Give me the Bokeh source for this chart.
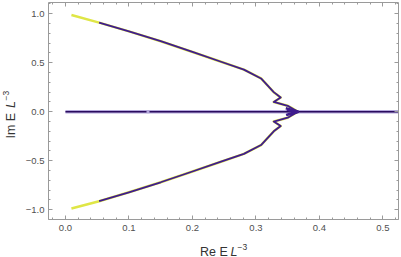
import math
from bokeh.plotting import figure
from bokeh.models import Range1d, LinearAxis, FixedTicker, Label
from bokeh.layouts import row, column
from bokeh.embed import file_html
from bokeh.resources import INLINE

# ---- data ----
re_upper = [0.0094, 0.053, 0.10, 0.15, 0.20, 0.245, 0.281, 0.308, 0.328, 0.339, 0.328, 0.350, 0.358, 0.366]
im_upper = [0.987, 0.910, 0.820, 0.720, 0.610, 0.510, 0.430, 0.340, 0.200, 0.145, 0.100, 0.061, 0.031, 0.000]
re_lower = [0.0094, 0.053, 0.10, 0.15, 0.20, 0.245, 0.281, 0.308, 0.328, 0.339, 0.328, 0.350, 0.358, 0.366]
im_lower = [-0.987, -0.913, -0.822, -0.720, -0.610, -0.510, -0.430, -0.340, -0.200, -0.145, -0.100, -0.061, -0.031, 0.000]
yellow_count = 2  # first points drawn only in yellow

blob_re = [0.347, 0.366, 0.349, 0.364, 0.350, 0.366, 0.348]
blob_im = [0.035, 0.004, -0.030, -0.008, 0.020, -0.004, -0.035]

zero_re = [0.0, 0.56]
zero_im = [0.0, 0.0]
mark_re = [0.13]
mark_im = [0.0]

x_ticks = [0.0, 0.1, 0.2, 0.3, 0.4, 0.5]
x_labels = ["0.0", "0.1", "0.2", "0.3", "0.4", "0.5"]
x_minor = [round(-0.02 + 0.02 * i, 2) for i in range(28)]
y_ticks = [-1.0, -0.5, 0.0, 0.5, 1.0]
y_labels = ["\u22121.0", "\u22120.5", "0.0", "0.5", "1.0"]
y_minor = [round(-1.1 + 0.1 * i, 1) for i in range(23)]

# ---- styles ----
YELLOW = "#dfe646"
PURPLE = "#3f1c8e"
DARK = "#2a0c5e"
LAV = "#b4a8dc"
FRAME = "#9a9a9a"
TXT = "#505050"
LABEL_C = "#333333"
FONT = "Liberation Sans"

YW = 22          # width of the y-label strip
XH = 17          # height of the x-label strip
PW = 401 - YW
PH = 257 - XH

p = figure(width=PW, height=PH, output_backend="svg", toolbar_location=None,
           x_range=Range1d(-0.0267, 0.5245), y_range=Range1d(-1.10, 1.115),
           min_border_left=47 - YW, min_border_right=PW - (398 - YW), min_border_top=2,
           min_border_bottom=PH - 219, title=None)
p.outline_line_color = None
p.grid.visible = False
p.background_fill_color = "white"
p.border_fill_color = "white"

def style_axis(ax, ticks, minor, labels):
    ax.ticker = FixedTicker(ticks=ticks, minor_ticks=minor)
    ax.axis_line_color = FRAME
    ax.major_tick_line_color = FRAME
    ax.minor_tick_line_color = FRAME
    ax.major_tick_in = 4
    ax.major_tick_out = 0
    ax.minor_tick_in = 2
    ax.minor_tick_out = 0
    if labels is None:
        ax.major_label_overrides = {t: "" for t in ticks}
        ax.major_label_standoff = 0
        ax.major_label_text_font_size = "0px"
    else:
        ax.major_label_overrides = dict(zip(ticks, labels))
        ax.major_label_text_font = FONT
        ax.major_label_text_font_size = "9.5px"
        ax.major_label_text_color = TXT

style_axis(p.xaxis[0], x_ticks, x_minor, x_labels)
p.xaxis[0].major_label_standoff = 5
style_axis(p.yaxis[0], y_ticks, y_minor, y_labels)
p.yaxis[0].major_label_standoff = 4

top = LinearAxis()
style_axis(top, x_ticks, x_minor, None)
p.add_layout(top, "above")
right = LinearAxis()
style_axis(right, y_ticks, y_minor, None)
p.add_layout(right, "right")

# zero line
p.line(zero_re, zero_im, line_color=LAV, line_width=3.5)
p.line(zero_re, zero_im, line_color=DARK, line_width=1.5)
p.scatter(mark_re, mark_im, marker="square", size=3, fill_color=LAV, line_color=None)

# branches
for re_b, im_b in ((re_upper, im_upper), (re_lower, im_lower)):
    p.line(re_b, im_b, line_color=YELLOW, line_width=2.5, line_join="round")
    p.line(re_b[yellow_count - 1:], im_b[yellow_count - 1:], line_color=PURPLE, line_width=1.8, line_join="round")
p.line(blob_re, blob_im, line_color=PURPLE, line_width=2.5, line_join="round")

# ---- axis-label strips (separate canvases so the text is not clipped) ----
def strip(w, h):
    f = figure(width=w, height=h, output_backend="svg", toolbar_location=None,
               x_range=Range1d(0, w), y_range=Range1d(0, h), min_border=0,
               min_border_left=0, min_border_right=0, min_border_top=0, min_border_bottom=0,
               x_axis_location=None, y_axis_location=None, title=None)
    f.outline_line_color = None
    f.grid.visible = False
    return f

fs = 12.5
xl = strip(PW, XH)
x0 = 198 - YW - 12
for text, italic, size, dy, adv in [("Re E", False, fs, 0, 33.0), ("L", True, fs, 0, 7.6), ("\u22123", False, 8.5, 5, 0)]:
    xl.add_layout(Label(x=x0, y=6 + dy, text=text, text_font=FONT, text_font_size=f"{size}px",
                        text_font_style="italic" if italic else "normal", text_color=LABEL_C,
                        text_align="left", text_baseline="alphabetic"))
    x0 += adv

yl = strip(YW, 257)
y0 = 257 - 138
for text, italic, size, dx, adv in [("Im E", False, fs, 0, 30.5), ("L", True, fs, 0, 7.6), ("\u22123", False, 8.5, 5, 0)]:
    yl.add_layout(Label(x=10 - dx, y=y0, text=text, angle=math.pi / 2, text_font=FONT,
                        text_font_size=f"{size}px", text_font_style="italic" if italic else "normal",
                        text_color=LABEL_C, text_align="left", text_baseline="alphabetic"))
    y0 += adv

layout = row(yl, column(p, xl, spacing=0), spacing=0)
open("out.html", "w").write(file_html(layout, INLINE))
